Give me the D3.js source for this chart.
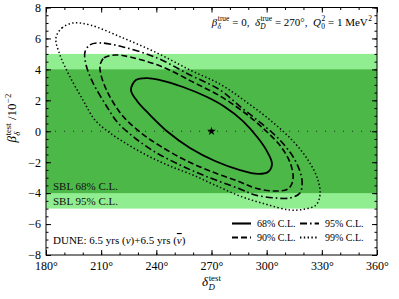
<!DOCTYPE html>
<html>
<head>
<meta charset="utf-8">
<script src="https://cdn.jsdelivr.net/npm/d3@7"></script>
<style>
  body { margin: 0; background: #fff; }
  svg { display: block; font-family: "Liberation Serif", "DejaVu Serif", serif; }
  svg text { white-space: pre; }
</style>
</head>
<body>
<svg id="chart" width="399" height="299"></svg>
<script>
// ---- data ----
var xTicks = [180, 210, 240, 270, 300, 330, 360];
var yTicks = [-8, -6, -4, -2, 0, 2, 4, 6, 8];

// SBL bands on beta (in units of 10^-2)
var sblBands = [
  { label: "SBL 95% C.L.", lo: -5, hi: 5 },
  { label: "SBL 68% C.L.", lo: -4, hi: 4 }
];

var truePoint = [270, 0];

// contours: [delta_D (deg), beta (10^-2)]
var cl68 = [[226.2,2.67],[228.9,3.31],[234.9,3.44],[242.0,3.31],[254.5,2.86],[267.6,2.21],
  [277.3,1.57],[287.1,0.66],[295.3,-0.44],[300.7,-1.41],[302.9,-2.12],[300.7,-2.64],
  [295.3,-2.76],[285.5,-2.51],[271.9,-1.92],[258.3,-1.08],[246.3,-0.05],[236.6,1.05],[229.5,1.96]];

var cl90 = [[209.4,4.28],[211.5,4.74],[217.5,4.93],[225.7,4.80],[243.6,4.15],[259.9,3.18],
  [274.6,2.28],[288.2,1.18],[299.6,0.02],[308.3,-1.08],[313.2,-2.18],[314.3,-3.15],
  [311.6,-3.73],[304.0,-3.86],[293.7,-3.67],[285.5,-3.28],[269.2,-2.57],[255.6,-1.86],
  [242.0,-0.95],[231.1,-0.05],[221.3,1.05],[213.7,2.47],[209.9,3.64]];

var cl95 = [[201.2,5.12],[203.9,5.58],[209.4,5.71],[221.9,5.45],[240.4,4.74],[258.3,3.64],
  [274.6,2.67],[286.6,1.50],[297.5,0.47],[307.2,-0.57],[315.4,-1.86],[319.2,-3.15],
  [318.1,-3.99],[312.7,-4.31],[304.5,-4.31],[293.7,-4.12],[285.5,-3.73],[266.5,-2.89],
  [252.9,-2.18],[239.3,-1.34],[228.4,-0.44],[219.2,0.53],[213.2,1.57],[205.6,3.12],[201.8,4.28]];

var cl99 = [[185.4,6.03],[188.7,6.68],[194.7,7.00],[203.9,6.87],[221.9,6.03],[240.4,5.06],
  [258.3,3.96],[274.6,3.05],[288.2,1.96],[301.8,0.73],[313.8,-0.57],[322.5,-1.86],
  [327.9,-3.15],[329.0,-4.12],[326.8,-4.77],[320.8,-5.03],[312.7,-5.09],[299.1,-4.70],
  [285.5,-4.19],[271.9,-3.48],[259.9,-2.83],[247.4,-2.25],[236.6,-1.66],[225.7,-0.95],
  [214.8,-0.11],[206.6,0.73],[200.1,2.02],[193.1,3.51],[187.6,4.93]];

var contourNames = ["68% C.L.", "95% C.L.", "90% C.L.", "99% C.L."];
var contourData = [cl68, cl95, cl90, cl99];

// ---- styles ----
var bandColors = ["#90ee90", "#4cb848"];
var contourDash = ["none", "7,3,1.6,3", "6,3", "1.4,2.4"];
var contourWidth = [1.8, 1.6, 1.6, 1.5];

var svg = d3.select("#chart");
var plotL = 46, plotR = 377, plotT = 7.5, plotB = 255;

var x = d3.scaleLinear().domain([180, 360]).range([plotL, plotR]);
var y = d3.scaleLinear().domain([-8, 8]).range([plotB, plotT]);

// bands
svg.selectAll("rect.band")
  .data(sblBands)
  .enter().append("rect")
  .attr("class", "band")
  .attr("x", plotL)
  .attr("width", plotR - plotL)
  .attr("y", function(d) { return y(d.hi); })
  .attr("height", function(d) { return y(d.lo) - y(d.hi); })
  .attr("fill", function(d, i) { return bandColors[i]; });

// dotted zero line
svg.append("line")
  .attr("x1", plotL).attr("x2", plotR)
  .attr("y1", y(0)).attr("y2", y(0))
  .attr("stroke", "#1a3a1a")
  .attr("stroke-width", 1.1)
  .attr("stroke-dasharray", "1.1,7.9");

// contours
var line = d3.line()
  .x(function(d) { return x(d[0]); })
  .y(function(d) { return y(d[1]); })
  .curve(d3.curveCatmullRomClosed.alpha(0.5));

svg.selectAll("path.contour")
  .data(contourData)
  .enter().append("path")
  .attr("class", "contour")
  .attr("d", line)
  .attr("fill", "none")
  .attr("stroke", "#000")
  .attr("stroke-width", function(d, i) { return contourWidth[i]; })
  .attr("stroke-dasharray", function(d, i) { return contourDash[i]; });

// true point star
svg.append("path")
  .attr("d", d3.symbol().type(d3.symbolStar).size(24))
  .attr("transform", "translate(" + x(truePoint[0]) + "," + y(truePoint[1]) + ")")
  .attr("fill", "#000");

// ---- axes, ticks inward on all sides ----
var xMinor = d3.range(180, 361, 10);
var yMinor = d3.range(-8, 8.01, 0.5);

function styleAxis(g) {
  g.attr("font-family", null).attr("font-size", null);
  g.select(".domain").remove();
  g.selectAll(".tick line").attr("stroke", "#000");
  g.selectAll("text").style("font-size", "12px").attr("fill", "#000");
}

svg.append("g").attr("transform", "translate(0," + plotB + ")")
  .call(d3.axisBottom(x).tickValues(xTicks).tickSize(-5).tickPadding(6)
    .tickFormat(function(d) { return d + "°"; }))
  .call(styleAxis);
svg.append("g").attr("transform", "translate(0," + plotB + ")")
  .call(d3.axisBottom(x).tickValues(xMinor).tickSize(-2.5).tickFormat(""))
  .call(styleAxis);
svg.append("g").attr("transform", "translate(0," + plotT + ")")
  .call(d3.axisTop(x).tickValues(xTicks).tickSize(-5).tickFormat(""))
  .call(styleAxis);
svg.append("g").attr("transform", "translate(0," + plotT + ")")
  .call(d3.axisTop(x).tickValues(xMinor).tickSize(-2.5).tickFormat(""))
  .call(styleAxis);

svg.append("g").attr("transform", "translate(" + plotL + ",0)")
  .call(d3.axisLeft(y).tickValues(yTicks).tickSize(-5).tickPadding(5))
  .call(styleAxis);
svg.append("g").attr("transform", "translate(" + plotL + ",0)")
  .call(d3.axisLeft(y).tickValues(yMinor).tickSize(-2.5).tickFormat(""))
  .call(styleAxis);
svg.append("g").attr("transform", "translate(" + plotR + ",0)")
  .call(d3.axisRight(y).tickValues(yTicks).tickSize(-5).tickFormat(""))
  .call(styleAxis);
svg.append("g").attr("transform", "translate(" + plotR + ",0)")
  .call(d3.axisRight(y).tickValues(yMinor).tickSize(-2.5).tickFormat(""))
  .call(styleAxis);

svg.append("rect")
  .attr("x", plotL).attr("y", plotT)
  .attr("width", plotR - plotL).attr("height", plotB - plotT)
  .attr("fill", "none").attr("stroke", "#000").attr("stroke-width", 1);

// ---- math-ish text: base + stacked sub/superscripts ----
function mathText(g, tokens, size) {
  var cx = 0;
  tokens.forEach(function(t) {
    var base = g.append("text")
      .attr("x", cx).attr("y", 0)
      .style("font-size", size + "px")
      .style("font-style", t.it ? "italic" : "normal")
      .style("text-decoration", t.bar ? "overline" : null)
      .text(t.s);
    cx += base.node().getComputedTextLength();
    var sw = 0;
    if (t.sup) {
      var sp = g.append("text")
        .attr("x", cx + 0.5).attr("y", -size * 0.42)
        .style("font-size", (size * 0.68) + "px")
        .text(t.sup);
      sw = sp.node().getComputedTextLength() + 0.5;
    }
    if (t.sub) {
      var sb = g.append("text")
        .attr("x", cx + 0.3).attr("y", size * 0.3)
        .style("font-size", (size * 0.68) + "px")
        .style("font-style", t.subIt ? "italic" : "normal")
        .text(t.sub);
      sw = Math.max(sw, sb.node().getComputedTextLength() + 0.3);
    }
    cx += sw;
  });
  return cx;
}

function placeMath(tokens, size, px, py, anchor, rotate) {
  var g = svg.append("g");
  var inner = g.append("g");
  var w = mathText(inner, tokens, size);
  var shift = anchor === "end" ? -w : anchor === "middle" ? -w / 2 : 0;
  inner.attr("transform", "translate(" + shift + ",0)");
  g.attr("transform", "translate(" + px + "," + py + ")" + (rotate ? " rotate(" + rotate + ")" : ""));
  return g;
}

// top-right annotation
placeMath([
  { s: "β", it: true, sub: "δ", subIt: true, sup: "true" },
  { s: " = 0,  " },
  { s: "δ", it: true, sub: "D", subIt: true, sup: "true" },
  { s: " = 270°,  " },
  { s: "Q", it: true, sub: "0", sup: "2" },
  { s: " = 1 MeV", sup: "2" }
], 11, 372, 26, "end");

// axis titles
placeMath([{ s: "δ", it: true, sub: "D", subIt: true, sup: "test" }], 13, x(270), 286, "middle");
placeMath([
  { s: "β", it: true, sub: "δ", subIt: true, sup: "test" },
  { s: " /10", sup: "−2" }
], 13, 16, 118, "middle", -90);

// band labels
svg.selectAll("text.bandlabel")
  .data(sblBands)
  .enter().append("text")
  .attr("class", "bandlabel")
  .attr("x", plotL + 7)
  .attr("y", function(d) { return y(d.lo) - 3.5; })
  .style("font-size", "11px")
  .attr("fill", "#111")
  .text(function(d) { return d.label; });

// experiment label
placeMath([
  { s: "DUNE: 6.5 yrs (" }, { s: "ν", it: true }, { s: ")+6.5 yrs (" },
  { s: "ν", it: true, bar: true }, { s: ")" }
], 11, plotL + 7, 244, "start");

// legend (2 x 2)
var legendX = [232, 300], legendY = [227, 241];
contourNames.forEach(function(name, i) {
  var col = i % 2, row = Math.floor(i / 2);
  var lx = legendX[col], ly = legendY[row];
  svg.append("line")
    .attr("x1", lx).attr("x2", lx + 19)
    .attr("y1", ly - 3.5).attr("y2", ly - 3.5)
    .attr("stroke", "#000")
    .attr("stroke-width", contourWidth[i] + 0.3)
    .attr("stroke-dasharray", contourDash[i]);
  svg.append("text")
    .attr("x", lx + 25).attr("y", ly)
    .style("font-size", "10px")
    .text(name);
});
</script>
</body>
</html>
